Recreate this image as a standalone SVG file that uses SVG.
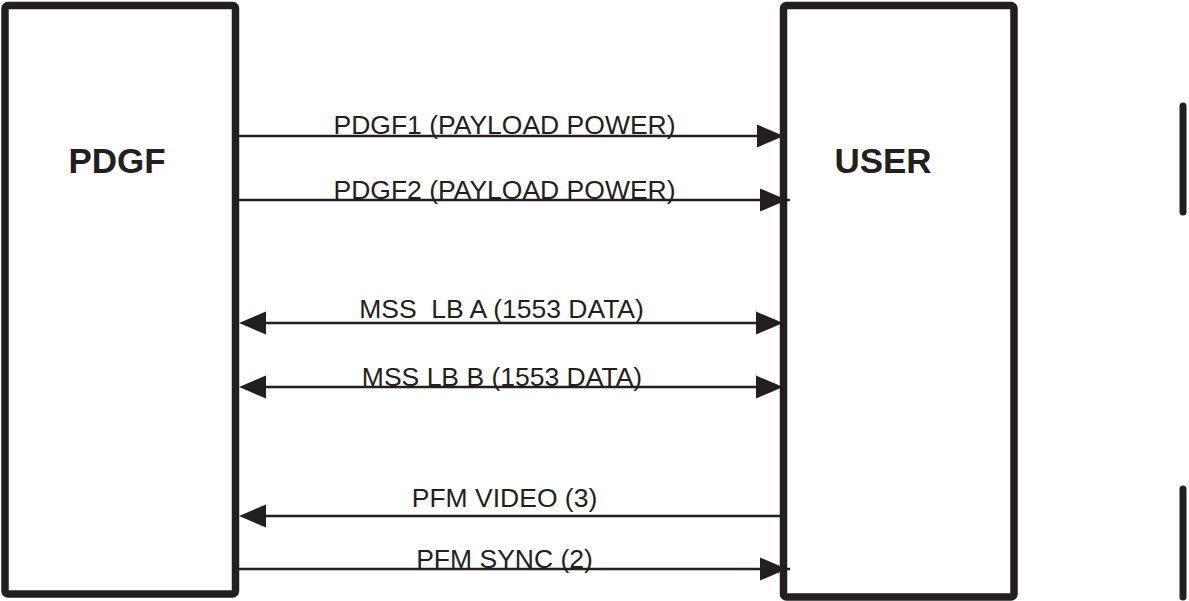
<svg xmlns="http://www.w3.org/2000/svg" xmlns:xlink="http://www.w3.org/1999/xlink" width="1189" height="601" viewBox="0 0 1189 601">
  <style>
    .box { fill: #ffffff; stroke: #231f20; stroke-width: 7.5; stroke-linejoin: round; }
    .title { font-family: "Liberation Sans", Arial, sans-serif; font-weight: bold; font-size: 35px; fill: #231f20; text-anchor: middle; }
    .wire { stroke: #231f20; stroke-width: 2.5; fill: none; }
    .label { font-family: "Liberation Sans", Arial, sans-serif; font-size: 26.5px; fill: #231f20; text-anchor: middle; }
    .head { fill: #231f20; }
    .bar { stroke: #231f20; stroke-width: 7; stroke-linecap: round; }
  </style>
  <defs>
    <!-- arrowhead pointing right, tip at the origin -->
    <path id="ah" class="head" d="M0,0 L-27,-11.5 L-27,11.5 Z"/>
  </defs>
  <rect width="1189" height="601" fill="#ffffff"/>

  <g id="node-pdgf">
    <rect class="box" x="5" y="5.5" width="230.5" height="588.5" rx="3"/>
    <text class="title" x="117" y="173">PDGF</text>
  </g>

  <g id="node-user">
    <rect class="box" x="783.5" y="5.5" width="230.5" height="591.5" rx="3"/>
    <text class="title" x="883" y="173">USER</text>
  </g>

  <g id="connectors">
    <!-- PDGF1 payload power -->
    <line class="wire" x1="239" y1="136" x2="760" y2="136"/>
    <use xlink:href="#ah" transform="translate(784,136)"/>
    <text class="label" x="504.5" y="134">PDGF1 (PAYLOAD POWER)</text>

    <!-- PDGF2 payload power -->
    <line class="wire" x1="239" y1="200" x2="790" y2="200"/>
    <use xlink:href="#ah" transform="translate(787,200)"/>
    <text class="label" x="504.5" y="199">PDGF2 (PAYLOAD POWER)</text>

    <!-- MSS LB A, bidirectional -->
    <line class="wire" x1="260" y1="323" x2="760" y2="323"/>
    <use xlink:href="#ah" transform="translate(239,323) scale(-1,1)"/>
    <use xlink:href="#ah" transform="translate(783,323)"/>
    <text class="label" x="501.5" y="318" xml:space="preserve">MSS  LB A (1553 DATA)</text>

    <!-- MSS LB B, bidirectional -->
    <line class="wire" x1="260" y1="387" x2="760" y2="387"/>
    <use xlink:href="#ah" transform="translate(239,387) scale(-1,1)"/>
    <use xlink:href="#ah" transform="translate(783,387)"/>
    <text class="label" x="502" y="386">MSS LB B (1553 DATA)</text>

    <!-- PFM video, user to PDGF -->
    <line class="wire" x1="260" y1="516" x2="783" y2="516"/>
    <use xlink:href="#ah" transform="translate(239,516) scale(-1,1)"/>
    <text class="label" x="504.5" y="507">PFM VIDEO (3)</text>

    <!-- PFM sync, PDGF to user -->
    <line class="wire" x1="239" y1="569" x2="790" y2="569"/>
    <use xlink:href="#ah" transform="translate(787,569)"/>
    <text class="label" x="504.5" y="568">PFM SYNC (2)</text>
  </g>

  <g id="margin-bars">
    <line class="bar" x1="1183" y1="106" x2="1183" y2="212"/>
    <line class="bar" x1="1183" y1="489" x2="1183" y2="597"/>
  </g>
</svg>
